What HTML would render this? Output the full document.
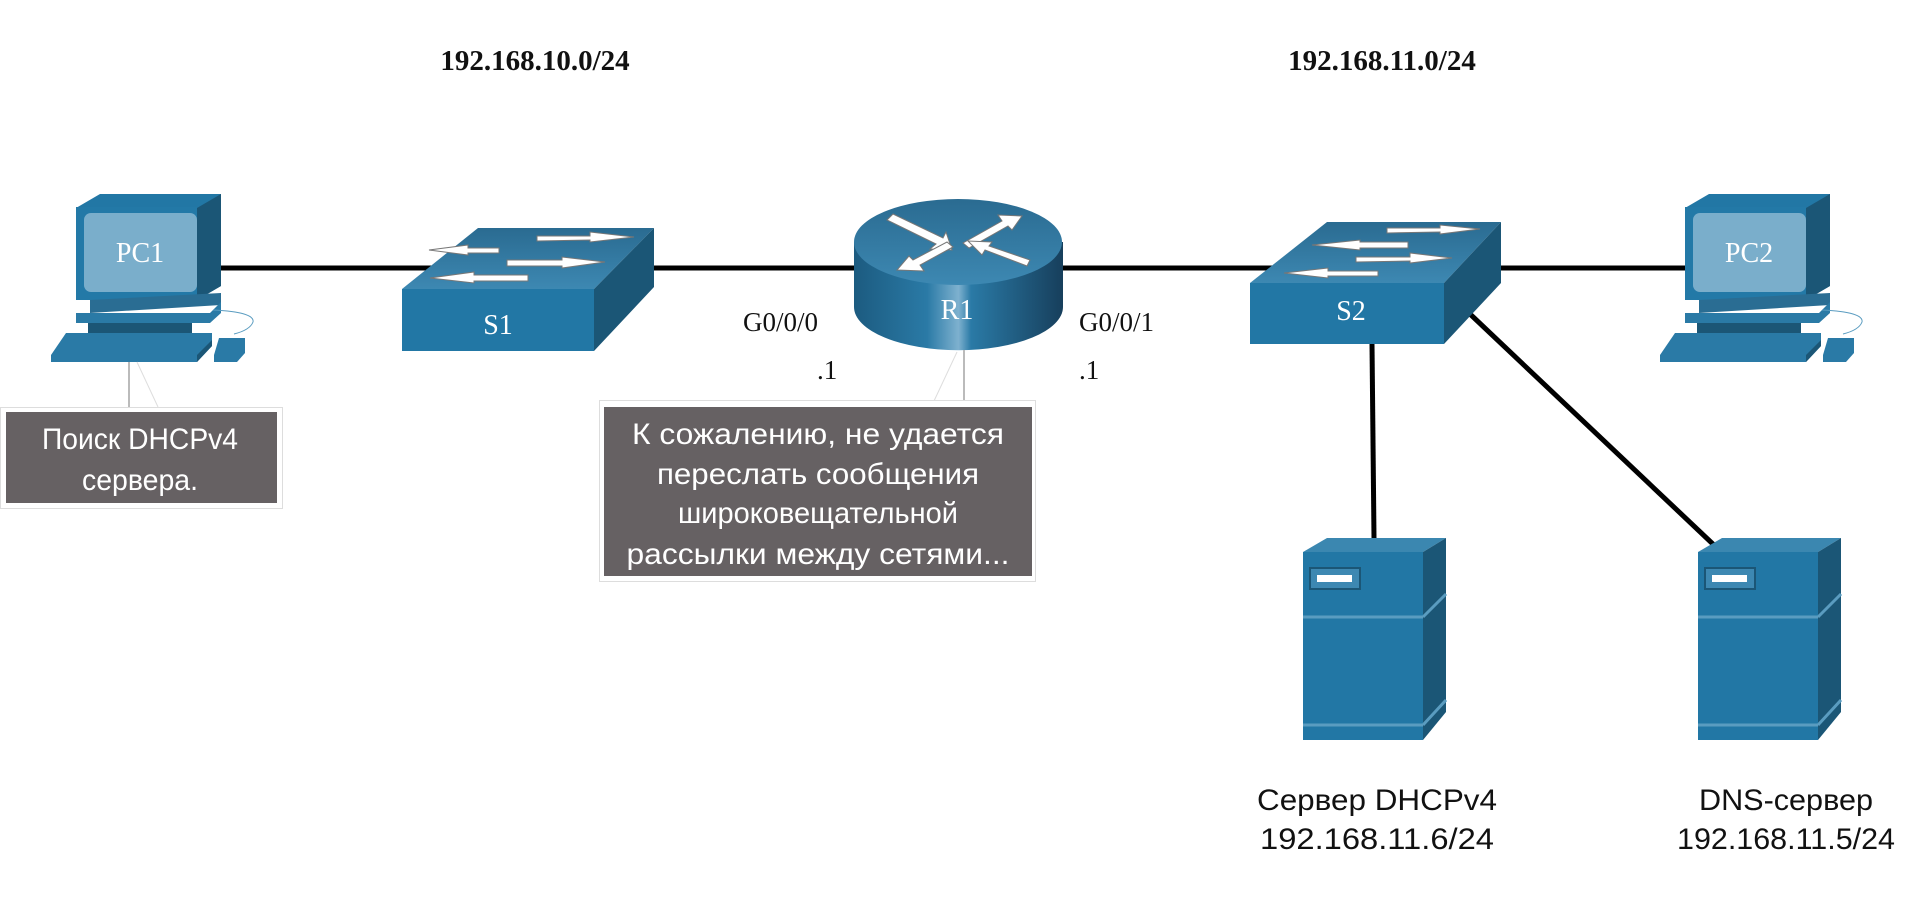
<!DOCTYPE html>
<html><head><meta charset="utf-8"><style>
html,body{margin:0;padding:0;background:#fff;width:1920px;height:904px;overflow:hidden}
svg{display:block}
.t{font-family:"Liberation Sans",sans-serif;font-size:30px;fill:#111;text-anchor:middle}
.w{font-family:"Liberation Sans",sans-serif;font-size:30px;fill:#fff;text-anchor:middle}
.s{font-family:"Liberation Serif",serif;fill:#111}
.l{font-family:"Liberation Serif",serif;fill:#fff;font-size:28px;text-anchor:middle}
</style></head><body>
<svg width="1920" height="904" viewBox="0 0 1920 904" xmlns="http://www.w3.org/2000/svg">
<defs>
<linearGradient id="top" x1="0" y1="0" x2="0" y2="1"><stop offset="0" stop-color="#2a6b91"/><stop offset="1" stop-color="#3d88b2"/></linearGradient>
<linearGradient id="cyl" x1="0" y1="0" x2="1" y2="0"><stop offset="0" stop-color="#1c5b80"/><stop offset="0.35" stop-color="#2a7aa6"/><stop offset="0.5" stop-color="#7eb1cf"/><stop offset="0.56" stop-color="#2a7aa6"/><stop offset="1" stop-color="#173f5c"/></linearGradient>
<g id="pc">
<polygon points="76,208 100,194 221,194 221,286 197,300 76,300" fill="#2277a5"/>
<polygon points="197,208 221,194 221,286 197,300" fill="#1b5676"/>
<rect x="76" y="207" width="121" height="93" fill="#2379a7"/>
<rect x="84" y="213" width="113" height="79" rx="7" fill="#7aaecb"/>
<polygon points="90,300 221,293 221,305 90,313" fill="#2a6d93"/>
<polygon points="76,313 210,313 221,302 221,313 210,323 76,323" fill="#2a7aa6"/>
<rect x="88" y="323" width="104" height="10" fill="#1b5676"/>
<polygon points="51,355 66,333 212,333 212,346 197,362 51,362" fill="#2a7aa6"/>
<polygon points="197,355 212,340 212,346 197,362" fill="#1b5676"/>
<path d="M213,310 Q255,312 253,322 Q250,330 234,334" fill="none" stroke="#5a9cc0" stroke-width="1"/>
<polygon points="214,355 219,338 245,338 245,353 237,362 214,362" fill="#2a7aa6"/>
</g>
<g id="srv">
<polygon points="1303,552 1327,538 1446,538 1423,552" fill="#3b87b0"/>
<polygon points="1423,552 1446,538 1446,712 1423,740" fill="#1b5676"/>
<rect x="1303" y="552" width="120" height="188" fill="#2277a5"/>
<line x1="1303" y1="617" x2="1423" y2="617" stroke="#5a9cc0" stroke-width="3"/>
<line x1="1423" y1="617" x2="1446" y2="594" stroke="#5a9cc0" stroke-width="3"/>
<line x1="1303" y1="725" x2="1423" y2="725" stroke="#5a9cc0" stroke-width="3"/>
<line x1="1423" y1="725" x2="1446" y2="700" stroke="#5a9cc0" stroke-width="3"/>
<rect x="1310" y="568" width="50" height="21" fill="#3d88b2" stroke="#1b5676" stroke-width="2"/>
<rect x="1317" y="575" width="35" height="7" fill="#fff"/>
</g>
</defs>

<!-- connections -->
<g stroke="#000" stroke-width="5">
<line x1="221" y1="268" x2="440" y2="268"/>
<line x1="640" y1="268" x2="856" y2="268"/>
<line x1="1062" y1="268" x2="1300" y2="268"/>
<line x1="1500" y1="268" x2="1690" y2="268"/>
<line x1="1372" y1="344" x2="1374" y2="538"/>
<line x1="1470" y1="314" x2="1715" y2="546"/>
</g>

<!-- titles -->
<text class="s" x="535" y="70" font-size="29" font-weight="bold" text-anchor="middle">192.168.10.0/24</text>
<text class="s" x="1382" y="70" font-size="29" font-weight="bold" text-anchor="middle">192.168.11.0/24</text>

<!-- PC1 / PC2 -->
<use href="#pc"/>
<text class="l" x="140" y="262">PC1</text>
<use href="#pc" transform="translate(1609,0)"/>
<text class="l" x="1749" y="262">PC2</text>

<!-- S1 -->
<polygon points="402,289 478,228 654,228 594,289" fill="url(#top)"/>
<polygon points="594,289 654,228 654,287 594,351" fill="#1b5676"/>
<rect x="402" y="289" width="192" height="62" fill="#2277a5"/>
<g fill="#fff" stroke="#777" stroke-width="1">
<polygon points="537,236 590,236 590,232 634,237 590,242 590,240 537,241"/>
<polygon points="499,248 468,248 468,245 429,250 468,255 468,253 499,253"/>
<polygon points="507,260 562,260 562,257 605,262 562,268 562,266 507,266"/>
<polygon points="528,275 474,275 474,272 430,278 474,283 474,281 528,281"/>
</g>
<text class="l" x="498" y="334">S1</text>

<!-- S2 -->
<polygon points="1250,283 1327,222 1501,222 1444,283" fill="url(#top)"/>
<polygon points="1444,283 1501,222 1501,283 1444,344" fill="#1b5676"/>
<rect x="1250" y="283" width="194" height="61" fill="#2277a5"/>
<g fill="#fff" stroke="#777" stroke-width="1">
<polygon points="1387,228 1440,228 1440,225 1480,229 1440,234 1440,232 1387,233"/>
<polygon points="1408,242 1360,242 1360,240 1312,245 1360,250 1360,248 1408,248"/>
<polygon points="1356,257 1410,257 1410,253 1452,258 1410,263 1410,261 1356,262"/>
<polygon points="1378,271 1328,271 1328,268 1284,273 1328,278 1328,276 1378,276"/>
</g>
<text class="l" x="1351" y="320">S2</text>

<!-- R1 -->
<path d="M854,242 L854,307 A104,43 0 0 0 1063,307 L1063,242 Z" fill="url(#cyl)"/>
<ellipse cx="958" cy="242" rx="104" ry="43" fill="url(#top)"/>
<g fill="#fff" stroke="#777" stroke-width="1">
<polygon points="893,214 943,238 946,232 952,250 930,249 936,244 887,220"/>
<polygon points="963,243 1002,221 998,215 1022,216 1012,230 1008,226 969,248"/>
<polygon points="953,247 920,265 924,271 897,270 909,256 913,260 947,242"/>
<polygon points="1027,266 985,250 982,255 968,241 992,242 989,246 1030,260"/>
</g>
<text class="l" x="957" y="319">R1</text>

<!-- interface labels -->
<g class="s" font-size="27">
<text x="743" y="331">G0/0/0</text>
<text x="817" y="379">.1</text>
<text x="1079" y="331">G0/0/1</text>
<text x="1079" y="379">.1</text>
</g>

<!-- PC1 callout -->
<line x1="129" y1="362" x2="129" y2="407" stroke="#bbb" stroke-width="2"/>
<line x1="137" y1="362" x2="158" y2="407" stroke="#ddd" stroke-width="1"/>
<rect x="0.5" y="407.5" width="282" height="101" fill="#fff" stroke="#ddd"/>
<rect x="6" y="412" width="271" height="91" fill="#666163"/>
<text class="w" x="140" y="449" textLength="196" lengthAdjust="spacingAndGlyphs">Поиск DHCPv4</text>
<text class="w" x="140" y="490" textLength="116" lengthAdjust="spacingAndGlyphs">сервера.</text>

<!-- R1 callout -->
<line x1="964" y1="350" x2="964" y2="401" stroke="#bbb" stroke-width="2"/>
<line x1="957" y1="352" x2="934" y2="401" stroke="#ddd" stroke-width="1"/>
<rect x="599.5" y="400.5" width="436" height="181" fill="#fff" stroke="#ddd"/>
<rect x="604" y="407" width="428" height="169" fill="#666163"/>
<text class="w" x="818" y="444" textLength="372" lengthAdjust="spacingAndGlyphs">К сожалению, не удается</text>
<text class="w" x="818" y="484" textLength="322" lengthAdjust="spacingAndGlyphs">переслать сообщения</text>
<text class="w" x="818" y="523" textLength="280" lengthAdjust="spacingAndGlyphs">широковещательной</text>
<text class="w" x="818" y="564" textLength="383" lengthAdjust="spacingAndGlyphs">рассылки между сетями...</text>

<!-- Servers -->
<use href="#srv"/>
<use href="#srv" transform="translate(395,0)"/>
<text class="t" x="1377" y="810" textLength="240" lengthAdjust="spacingAndGlyphs">Сервер DHCPv4</text>
<text class="t" x="1377" y="849" textLength="234" lengthAdjust="spacingAndGlyphs">192.168.11.6/24</text>
<text class="t" x="1786" y="810" textLength="174" lengthAdjust="spacingAndGlyphs">DNS-сервер</text>
<text class="t" x="1786" y="849" textLength="218" lengthAdjust="spacingAndGlyphs">192.168.11.5/24</text>
</svg>
</body></html>
